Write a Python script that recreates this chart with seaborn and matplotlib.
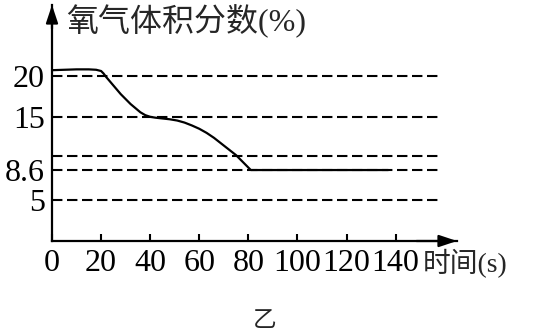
import matplotlib
matplotlib.use("Agg")
import matplotlib.pyplot as plt
import seaborn as sns
import pandas as pd

# ---- data ----
time_s = [0, 5, 10, 15, 18, 20, 21, 22, 24, 26, 28, 30, 32, 34, 36, 38, 40, 42, 45, 48,
          51, 54, 57, 60, 63, 66, 69, 72, 75, 77, 79, 81, 100, 120, 137]
o2_pct = [20.7, 20.75, 20.8, 20.8, 20.75, 20.6, 20.3, 19.9, 19.2, 18.5, 17.8, 17.2, 16.6,
          16.1, 15.6, 15.25, 15.05, 14.95, 14.85, 14.75, 14.6, 14.35, 14.0, 13.6, 13.1,
          12.5, 11.8, 11.1, 10.4, 9.8, 9.2, 8.6, 8.6, 8.6, 8.6]
ref_levels = [20, 15, 10.3, 8.6, 5]
y_ticks = [20, 15, 8.6, 5]
y_tick_labels = ["20", "15", "8.6", "5"]
x_ticks = [0, 20, 40, 60, 80, 100, 120, 140]
x_tick_labels = ["0", "20", "40", "60", "80", "100", "120", "140"]
y_title = "氧气体积分数(%)"
x_title = "时间(s)"
caption = "乙"

sns.set_theme(style="white")
FAM = ["Liberation Serif", "Noto Sans CJK SC", "DejaVu Sans"]
plt.rcParams["font.family"] = FAM

df = pd.DataFrame({"t": time_s, "o2": o2_pct})

fig = plt.figure(figsize=(5.4, 3.35), dpi=100)
ax = fig.add_axes([52 / 540, 94 / 335, 405 / 540, 236 / 335])

ax.hlines(ref_levels, 0, 158, colors="black", linewidth=1.5, linestyles=(0, (5.0, 2.2)))
sns.lineplot(data=df, x="t", y="o2", ax=ax, color="black", linewidth=1.6,
             estimator=None, sort=False)

ax.set_xlim(0, 165)
ax.set_ylim(0, 28.6)
ax.set_xlabel("")
ax.set_ylabel("")

for s in ["top", "right"]:
    ax.spines[s].set_visible(False)
for s in ["left", "bottom"]:
    ax.spines[s].set_color("black")
    ax.spines[s].set_linewidth(1.6)

ax.set_xticks(x_ticks)
ax.set_xticklabels(x_tick_labels, fontsize=23, family=FAM)
ax.set_yticks(y_ticks)
ax.set_yticklabels(y_tick_labels, fontsize=23, family=FAM)
ax.tick_params(axis="x", direction="in", length=5, width=1.5, colors="black", pad=6)
ax.tick_params(axis="y", length=0, pad=5, colors="black")
ax.tick_params(axis="x", bottom=True)

# axis arrows
arrow = dict(arrowstyle="-|>,head_length=0.9,head_width=0.3", color="black", lw=1.6,
             shrinkA=0, shrinkB=0)
ax.annotate("", xy=(1.0, 0), xytext=(0.9, 0), xycoords="axes fraction", arrowprops=arrow,
            annotation_clip=False)
ax.annotate("", xy=(0, 1.0), xytext=(0, 0.9), xycoords="axes fraction", arrowprops=arrow,
            annotation_clip=False)

fig.text(66 / 540, 1 - 21 / 335, y_title, fontsize=23, family=FAM, ha="left", va="center")
fig.text(423 / 540, 1 - 264 / 335, x_title, fontsize=20, family=FAM, ha="left", va="center")
fig.text(265 / 540, 1 - 322 / 335, caption, fontsize=17, family=FAM, ha="center", va="center")

fig.savefig("out.png", dpi=100)
